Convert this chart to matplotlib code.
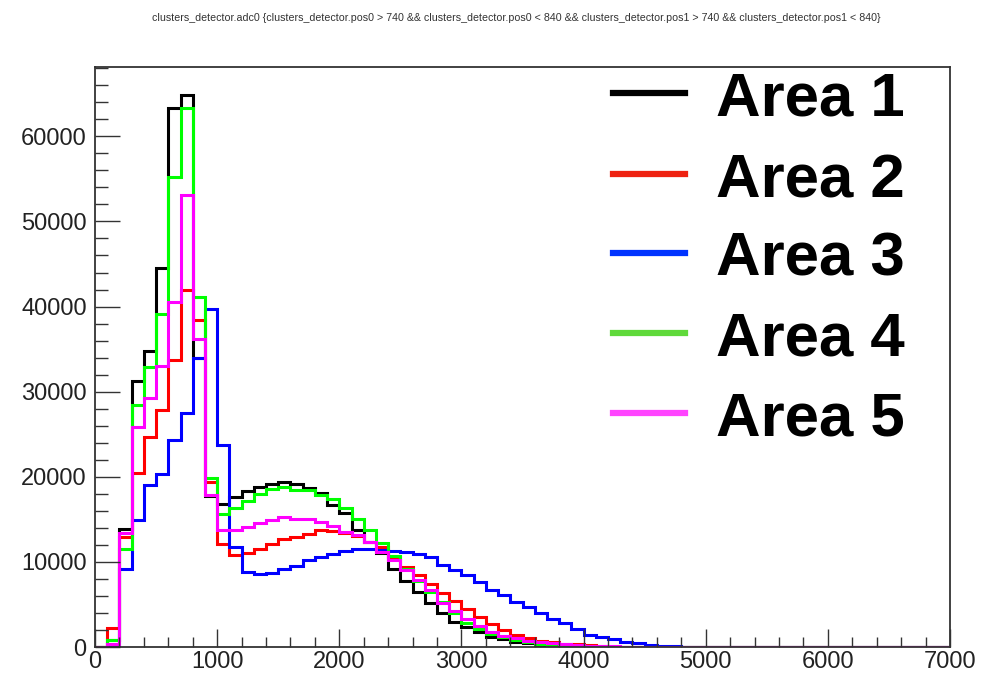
import numpy as np
import matplotlib
matplotlib.use("Agg")
import matplotlib.pyplot as plt
from matplotlib.lines import Line2D
from matplotlib.ticker import MultipleLocator

plt.rcParams['font.family'] = ['Liberation Sans', 'DejaVu Sans']

# histogram binning: 70 bins of width 100 from 0 to 7000
n_bins = 70
x_min, x_max = 0, 7000
bin_edges = np.linspace(x_min, x_max, n_bins + 1)

# bin contents (bins 0-100, 100-200, ...), tail is zero
area1 = [0, 800, 13900, 31300, 34800, 44500, 63300, 64900, 34000, 17700,
         16850, 17600, 18300, 18800, 19200, 19400, 19100, 18700, 18100, 16700,
         15700, 13700, 12300, 11000, 9200, 7700, 6450, 5200, 4000, 2970,
         2380, 1790, 1210, 900, 620, 430, 270, 180, 110, 70,
         40, 20]
area2 = [0, 2200, 12900, 20400, 24650, 27900, 33700, 42000, 38400, 19400,
         12160, 10800, 11000, 11570, 12160, 12660, 12930, 13330, 13720, 13640,
         13400, 13100, 12340, 11760, 10590, 9410, 8440, 7390, 6300, 5430,
         4420, 3550, 2700, 1990, 1410, 1020, 740, 550, 400, 300,
         200, 100, 40]
area3 = [0, 0, 9140, 14890, 19070, 20360, 24270, 27510, 33900, 39700,
         23680, 11760, 8830, 8560, 8710, 9110, 9500, 10200, 10590, 10980,
         11300, 11500, 11570, 11450, 11290, 11170, 10900, 10590, 9690, 9030,
         8440, 7660, 6680, 6100, 5310, 4650, 3950, 3250, 2780, 2070,
         1410, 1140, 900, 620, 430, 230, 120, 60, 30]
area4 = [0, 800, 11500, 28400, 32900, 39100, 55250, 63300, 41150, 19900,
         15600, 16300, 17100, 18000, 18600, 18800, 18500, 18400, 17900, 17400,
         16300, 15000, 13700, 12200, 10700, 9200, 7800, 6500, 5250, 3950,
         2800, 2070, 1520, 1140, 820, 550, 380, 250, 150, 80,
         40]
area5 = [0, 300, 13440, 25800, 29300, 33060, 40560, 53100, 36200, 17900,
         13800, 13800, 14110, 14580, 14970, 15280, 15090, 15010, 14690, 14190,
         13520, 13130, 12340, 11170, 10200, 9000, 7900, 6700, 5200, 4200,
         3300, 2500, 1800, 1350, 1000, 740, 550, 430, 310, 230,
         150, 100, 60, 30]

labels = ["Area 1", "Area 2", "Area 3", "Area 4", "Area 5"]
line_colors = ["#000000", "#ff0000", "#0000ff", "#00ff00", "#ff00ff"]
legend_colors = ["#000000", "#ee2211", "#0033ff", "#5fd93a", "#ff44ff"]

title = ("clusters_detector.adc0 {clusters_detector.pos0 > 740 && clusters_detector.pos0 < 840 "
         "&& clusters_detector.pos1 > 740 && clusters_detector.pos1 < 840}")


def full(vals):
    # pad the empty tail of the histogram with zeros
    return np.array(vals + [0] * (n_bins - len(vals)), dtype=float)


series = [full(a) for a in (area1, area2, area3, area4, area5)]

fig = plt.figure(figsize=(9.85, 6.76), dpi=100)
ax = fig.add_axes([95 / 985, 29 / 676, 855 / 985, 580 / 676])

for vals, col in zip(series, line_colors):
    ax.stairs(vals, bin_edges, color=col, linewidth=2.2, baseline=0)

ax.set_xlim(x_min, x_max)
ax.set_ylim(0, 1.05 * max(s.max() for s in series))

ax.xaxis.set_major_locator(MultipleLocator(1000))
ax.xaxis.set_minor_locator(MultipleLocator(200))
ax.yaxis.set_major_locator(MultipleLocator(10000))
ax.yaxis.set_minor_locator(MultipleLocator(2000))

ax.tick_params(axis='both', which='both', direction='in', top=False, right=False,
               color='#333333', width=1.0, labelsize=17, labelcolor='#222222')
ax.tick_params(axis='y', which='major', length=18, pad=6)
ax.tick_params(axis='y', which='minor', length=9.5)
ax.tick_params(axis='x', which='major', length=13, pad=3)
ax.tick_params(axis='x', which='minor', length=7)
for sp in ax.spines.values():
    sp.set_color('#333333')
    sp.set_linewidth(1.3)

# title (ROOT style, tiny, centred at the top)
fig.text(0.524, 1 - 18 / 676, title, ha='center', va='center', fontsize=7.7, color='#333333')

# legend without frame
leg_y = [93, 174, 253, 333, 413]
for lab, col, yy in zip(labels, legend_colors, leg_y):
    fy = 1 - yy / 676
    fig.add_artist(Line2D([613 / 985, 685 / 985], [fy, fy], color=col, linewidth=4.5,
                          transform=fig.transFigure))
    fig.text(716 / 985, 1 - (yy + 23) / 676, lab, ha='left', va='baseline',
             fontsize=44.5, fontweight='bold', color='black')

fig.savefig("out.png", dpi=100)
